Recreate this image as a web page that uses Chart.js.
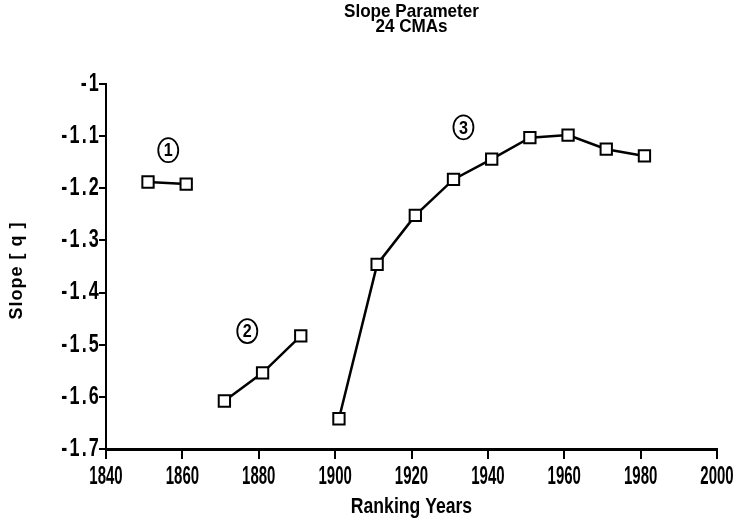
<!DOCTYPE html>
<html>
<head>
<meta charset="utf-8">
<title>Slope Parameter</title>
<script src="https://cdn.jsdelivr.net/npm/chart.js@4/dist/chart.umd.min.js"></script>
<style>
  html, body { margin: 0; padding: 0; background: #fff; }
  #wrap { width: 733px; height: 520px; position: relative; }
</style>
</head>
<body>
<div id="wrap"><canvas id="slopeChart"></canvas></div>
<script>
// census years and slope values, one array per period
var years1 = [1851, 1861];
var slope1 = [-1.188, -1.192];
var years2 = [1871, 1881, 1891];
var slope2 = [-1.608, -1.554, -1.483];
var years3 = [1901, 1911, 1921, 1931, 1941, 1951, 1961, 1971, 1981];
var slope3 = [-1.642, -1.346, -1.252, -1.183, -1.144, -1.103, -1.098, -1.125, -1.138];

// circled period numbers, placed in data units (year, slope)
var periodLabels = ['1', '2', '3'];
var periodYears = [1856.3, 1877, 1933.6];
var periodSlopes = [-1.127, -1.474, -1.083];

var xTicks = [1840, 1860, 1880, 1900, 1920, 1940, 1960, 1980, 2000];
var yTicks = [-1, -1.1, -1.2, -1.3, -1.4, -1.5, -1.6, -1.7];

var titleLines = ['Slope Parameter', '24 CMAs'];
var xTitle = 'Ranking Years';
var yTitle = 'Slope [ q ]';

var FONT = "'Liberation Sans', Arial, sans-serif";

function toPoints(xs, ys) {
  return xs.map(function(x, i) { return { x: x, y: ys[i] }; });
}

function seriesStyle(xs, ys) {
  return {
    data: toPoints(xs, ys),
    showLine: true,
    borderColor: '#000',
    borderWidth: 2.5,
    pointStyle: 'rect',
    pointRadius: 8,
    pointBorderWidth: 2,
    pointBackgroundColor: '#fff',
    pointBorderColor: '#000',
    tension: 0
  };
}

// the old plotter font is tall and narrow, so squeeze text horizontally
function narrowText(ctx, text, x, y, size, align, squeeze, angle, spacing) {
  ctx.save();
  ctx.translate(x, y);
  if (angle) ctx.rotate(angle);
  ctx.scale(squeeze, 1);
  ctx.font = 'bold ' + size + 'px ' + FONT;
  ctx.letterSpacing = (spacing || 0) + 'px';
  ctx.textAlign = align;
  ctx.textBaseline = 'middle';
  ctx.fillStyle = '#000';
  ctx.fillText(text, 0, 0);
  ctx.restore();
}

// tick labels, axis titles and chart title
var plotterText = {
  id: 'plotterText',
  afterDraw: function(chart) {
    var ctx = chart.ctx;
    var xs = chart.scales.x, ys = chart.scales.y;
    var area = chart.chartArea;
    var midX = (area.left + area.right) / 2;

    xTicks.forEach(function(v) {
      narrowText(ctx, String(v), xs.getPixelForValue(v), area.bottom + 28, 25, 'center', 0.6);
    });
    yTicks.forEach(function(v) {
      narrowText(ctx, String(Math.round(v * 10) / 10), area.left - 5, ys.getPixelForValue(v), 25, 'right', 0.72, 0, 3);
    });

    narrowText(ctx, titleLines[0], midX, area.top - 72, 19, 'center', 0.9);
    narrowText(ctx, titleLines[1], midX, area.top - 57, 19, 'center', 0.9);
    narrowText(ctx, xTitle, midX, area.bottom + 58, 22, 'center', 0.8);
    narrowText(ctx, yTitle, 17, (area.top + area.bottom) / 2 + 4, 18, 'center', 1, -Math.PI / 2, 1);
  }
};

// draws the circled 1, 2, 3 next to each period
var circledLabels = {
  id: 'circledLabels',
  afterDatasetsDraw: function(chart) {
    var ctx = chart.ctx;
    var xs = chart.scales.x, ys = chart.scales.y;
    ctx.save();
    ctx.strokeStyle = '#000';
    ctx.lineWidth = 1.8;
    periodLabels.forEach(function(lbl, i) {
      var px = xs.getPixelForValue(periodYears[i]);
      var py = ys.getPixelForValue(periodSlopes[i]);
      ctx.beginPath();
      ctx.ellipse(px, py, 10, 12, 0, 0, Math.PI * 2);
      ctx.stroke();
      narrowText(ctx, lbl, px, py + 1, 19, 'center', 0.85);
    });
    ctx.restore();
  }
};

new Chart(document.getElementById('slopeChart'), {
  type: 'scatter',
  data: {
    datasets: [
      seriesStyle(years1, slope1),
      seriesStyle(years2, slope2),
      seriesStyle(years3, slope3)
    ]
  },
  options: {
    responsive: true,
    maintainAspectRatio: false,
    animation: false,
    layout: { padding: { left: 0, right: 16, top: 84, bottom: 0 } },
    plugins: {
      legend: { display: false },
      tooltip: { enabled: false },
      title: { display: false }
    },
    scales: {
      x: {
        type: 'linear',
        min: 1840,
        max: 2000,
        afterFit: function(scale) { scale.height = 71; },
        afterBuildTicks: function(scale) {
          scale.ticks = xTicks.map(function(v) { return { value: v }; });
        },
        border: { display: true, color: '#000', width: 3 },
        grid: { drawOnChartArea: false, color: '#000', lineWidth: 2, tickLength: 10 },
        ticks: { display: false }
      },
      y: {
        type: 'linear',
        min: -1.7,
        max: -1,
        afterFit: function(scale) { scale.width = 106; },
        afterBuildTicks: function(scale) {
          scale.ticks = yTicks.map(function(v) { return { value: v }; });
        },
        border: { display: true, color: '#000', width: 2 },
        grid: { drawOnChartArea: false, color: '#000', lineWidth: 2, tickLength: 7 },
        ticks: { display: false }
      }
    }
  },
  plugins: [circledLabels, plotterText]
});
</script>
</body>
</html>
